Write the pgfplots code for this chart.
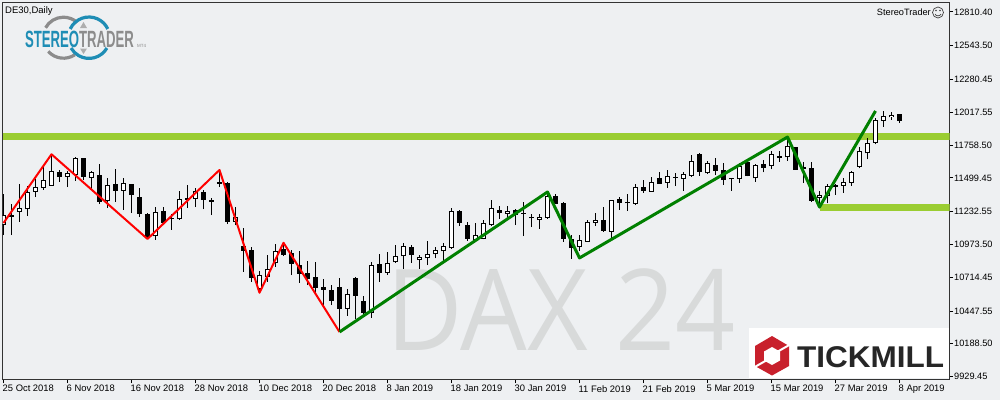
\documentclass[border=0pt]{standalone}
\usepackage{fontspec}
\setmainfont{Liberation Sans}
\newfontfamily\wmfont{Open Sans}
\usepackage{pgfplots}
\usepackage{pgfplotstable}
\pgfplotsset{compat=1.18}

\definecolor{chartbg}{HTML}{EEF0F2}
\definecolor{band}{HTML}{9ACD32}
\definecolor{zgreen}{HTML}{008000}
\definecolor{wm}{HTML}{D8DADA}
\definecolor{stblue}{HTML}{1E8DB5}
\definecolor{stgray}{HTML}{8C8C8C}
\definecolor{tmred}{HTML}{C8202C}
\definecolor{frame}{HTML}{333333}

% bull candles: bar open high low close
\pgfplotstableread{
k open high low close
0 11125 11372 11048 11209
2 11233 11451 11154 11259
3 11251 11435 11198 11385
4 11391 11488 11348 11425
5 11422 11588 11404 11480
6 11438 11685 11436 11551
8 11509 11554 11427 11535
9 11525 11664 11477 11654
11 11501 11554 11409 11543
13 11317 11499 11262 11441
15 11399 11499 11246 11457
19 11038 11267 11009 11227
22 11172 11396 11170 11330
24 11335 11417 11269 11393
29 11154 11267 11125 11188
32 10619 10764 10593 10730
33 10719 10890 10680 10777
34 10830 10977 10798 10919
43 10466 10622 10411 10579
46 10435 10832 10395 10808
48 10751 10911 10735 10824
49 10832 10969 10830 10880
50 10880 10982 10780 10959
52 10853 10888 10780 10872
53 10864 11001 10811 10896
54 10896 10951 10864 10927
55 10919 10982 10846 10959
56 10948 11261 10941 11235
59 11009 11141 10996 11051
60 11019 11167 11014 11140
61 11127 11325 11119 11259
63 11217 11277 11183 11235
67 11170 11212 11096 11188
68 11185 11385 11175 11356
72 10956 11048 10922 11006
73 10996 11167 10994 11148
74 11146 11219 11119 11164
76 11075 11325 11009 11322
79 11296 11449 11285 11425
81 11391 11506 11389 11464
83 11462 11562 11422 11512
85 11493 11549 11396 11528
86 11517 11680 11509 11630
88 11535 11633 11533 11614
92 11488 11614 11462 11593
94 11496 11607 11470 11601
96 11591 11715 11567 11685
98 11662 11825 11633 11749
102 11343 11396 11267 11362
103 11359 11451 11299 11433
104 11425 11451 11367 11441
105 11438 11496 11383 11465
106 11462 11554 11438 11543
107 11588 11746 11575 11712
108 11694 11812 11646 11775
109 11778 11975 11765 11954
110 11952 12028 11904 11986
111 11978 12017 11957 11999
}\upcandles

% bear candles
\pgfplotstableread{
k open high low close
1 11204 11293 11048 11193
7 11546 11562 11467 11507
10 11656 11660 11483 11507
12 11520 11609 11293 11309
14 11449 11567 11309 11399
16 11451 11455 11222 11367
17 11346 11420 11190 11214
18 11214 11219 11014 11030
20 11235 11267 11140 11146
21 11184 11212 11088 11176
23 11338 11443 11262 11327
25 11388 11404 11251 11325
26 11325 11338 11206 11311
27 11467 11562 11427 11454
28 11457 11467 11135 11154
30 10961 11104 10759 10924
31 10927 10951 10680 10711
35 10938 10988 10882 10893
36 10903 10930 10732 10822
37 10811 10922 10672 10743
38 10748 10843 10653 10698
39 10716 10835 10587 10632
40 10637 10701 10495 10616
41 10614 10653 10495 10529
42 10637 10708 10285 10466
44 10708 10714 10385 10569
45 10527 10566 10411 10435
47 10816 10898 10680 10751
51 10951 10966 10830 10893
57 11235 11243 11122 11146
58 11125 11151 11004 11017
62 11246 11277 11175 11225
64 11246 11250 11127 11209
65 11225 11309 11040 11217
66 11188 11214 11111 11180
69 11356 11369 11293 11296
70 11301 11306 10996 11019
71 11014 11048 10859 10948
75 11167 11267 11075 11080
77 11330 11346 11246 11304
78 11309 11372 11238 11299
80 11427 11483 11383 11396
82 11498 11546 11452 11454
84 11509 11541 11435 11501
87 11688 11693 11517 11546
89 11601 11656 11522 11556
90 11562 11620 11446 11483
91 11496 11498 11399 11488
93 11625 11628 11512 11514
95 11607 11641 11543 11580
97 11672 11712 11628 11659
99 11743 11745 11562 11564
100 11583 11628 11462 11572
101 11575 11625 11309 11320
112 12001 12004 11933 11949
}\downcandles

\pgfplotsset{
  wick/.style={draw=none, no markers, forget plot,
    error bars/.cd, y dir=plus, y explicit, error mark=none,
    error bar style={line width=1pt, black}},
  body/.style={draw=none, no markers, forget plot,
    error bars/.cd, y dir=plus, y explicit, error mark=none,
    error bar style={line width=#1}},
}

\begin{document}
\begin{tikzpicture}
\path[use as bounding box, fill=chartbg] (0pt,0pt) rectangle (1000pt,-400pt);

% watermark sits under the candles
\begin{scope}[x=1pt,y=-1pt]
  \node[anchor=base west, inner sep=0pt, text=wm, font=\wmfont\fontsize{113}{113}\selectfont,
        xscale=0.93, transform shape] at (386,350) {DAX 24};
\end{scope}

\begin{axis}[
  at={(2.5pt,-379.5pt)}, anchor=south west,
  width=947pt, height=377pt, scale only axis,
  xmin=-0.125, xmax=118.25,
  ymin=9906.6, ymax=12885,
  scaled y ticks=false,
  axis line style={frame, line width=1pt},
  clip=true,
  xtick={0,8,...,112},
  xticklabels={25 Oct 2018,6 Nov 2018,16 Nov 2018,28 Nov 2018,10 Dec 2018,20 Dec 2018,
    8 Jan 2019,18 Jan 2019,30 Jan 2019,11 Feb 2019,21 Feb 2019,5 Mar 2019,15 Mar 2019,
    27 Mar 2019,8 Apr 2019},
  ytick={9929.45,10188.50,10447.55,10714.45,10973.50,11232.55,11499.45,11758.50,12017.55,12280.45,12543.50,12810.40},
  yticklabels={9929.45,10188.50,10447.55,10714.45,10973.50,11232.55,11499.45,11758.50,12017.55,12280.45,12543.50,12810.40},
  xtick pos=bottom, ytick pos=right, yticklabel pos=right,
  tick align=outside, major tick length=3.5pt,
  tick style={black, line width=0.9pt},
  x tick label style={anchor=north west, inner sep=0pt, xshift=-1pt, yshift=-2pt,
    font=\fontsize{9.4}{10}\selectfont},
  y tick label style={anchor=west, inner sep=0pt, xshift=1pt,
    font=\fontsize{9.2}{10}\selectfont},
]
% support / resistance bands
\addplot[band, line width=7pt, forget plot] coordinates {(-0.125,11826) (118.25,11826)};
\addplot[band, line width=7pt, forget plot] coordinates {(102,11265) (118.25,11265)};

% wicks
\addplot[wick] table[x=k, y=low, y error plus expr=\thisrow{high}-\thisrow{low}] {\upcandles};
\addplot[wick] table[x=k, y=low, y error plus expr=\thisrow{high}-\thisrow{low}] {\downcandles};
% bodies
\addplot[body={5pt,black}] table[x=k, y=close, y error plus expr=\thisrow{open}-\thisrow{close}] {\downcandles};
\addplot[body={5pt,black}] table[x=k, y=open, y error plus expr=\thisrow{close}-\thisrow{open}] {\upcandles};
\addplot[body={3pt,white}] table[x=k, y expr=\thisrow{open}+8, y error plus expr=\thisrow{close}-\thisrow{open}-16] {\upcandles};

% zigzags
\addplot[red, line width=2pt, line join=round] coordinates {
  (0,11143) (6,11686) (18,11017) (27,11562) (32,10592) (35,10987) (42,10282)};
\addplot[zgreen, line width=3pt, line join=round] coordinates {
  (42,10282) (68,11388) (72,10867) (98,11822) (102,11269) (109,12028)};
\end{axis}

\begin{scope}[x=1pt,y=-1pt]
  % header texts
  \node[anchor=base west, inner sep=0pt, font=\fontsize{9.5}{10}\selectfont] at (5,13) {DE30,Daily};
  \node[anchor=base east, inner sep=0pt, font=\fontsize{9.2}{10}\selectfont] at (931,15.5) {StereoTrader};
  % smiley
  \draw[black!75, line width=0.7pt] (938,12.5) circle[radius=5.5];
  \fill[black!75] (936,10.5) circle[radius=0.8] (940,10.5) circle[radius=0.8];
  \draw[black!75, line width=0.7pt] (935,14) .. controls (936.5,16.5) and (939.5,16.5) .. (941,14);

  % StereoTrader logo
  \draw[stgray, line width=3.2pt] (63.5,37.7) ++(209:20.5) arc[start angle=209, end angle=312, radius=20.5];
  \draw[stgray, line width=3.2pt] (63.5,37.7) ++(56:20.5) arc[start angle=56, end angle=138, radius=20.5];
  \draw[stblue, line width=3.2pt] (89,37.7) ++(205:20.7) arc[start angle=205, end angle=335, radius=20.7];
  \draw[stblue, line width=3.2pt] (89,37.7) ++(30:20.7) arc[start angle=30, end angle=150, radius=20.7];
  \fill[stgray!70] (83.5,22) -- (80,28) -- (87,28) -- cycle;
  \fill[stgray!70] (83.5,54) -- (80,48.5) -- (87,48.5) -- cycle;
  \node[anchor=base west, inner sep=0pt, text=stblue, font=\bfseries\fontsize{23.5}{24}\selectfont,
        xscale=0.56, transform shape] at (25,47.7) {STEREO};
  \node[anchor=base west, inner sep=0pt, text=stgray, font=\bfseries\fontsize{23.5}{24}\selectfont,
        xscale=0.56, transform shape] at (79,47.7) {TRADER};
  \node[anchor=base west, inner sep=0pt, text=stgray, font=\fontsize{4.5}{5}\selectfont] at (137,47.5) {MT4};

  % Tickmill logo
  \fill[white] (749,328) rectangle (949,378);
  \fill[tmred] (772,336) -- (789,346) -- (789,366) -- (772,375.5) -- (755,366) -- (755,346) -- cycle;
  \fill[white] (772,347) -- (780,351.5) -- (780,360.5) -- (772,365) -- (764,360.5) -- (764,351.5) -- cycle;
  \draw[white, line width=2pt] (791,344) -- (777,352);
  \draw[white, line width=2pt] (753,368) -- (767,360);
  \node[anchor=base west, inner sep=0pt, text=black!85, font=\bfseries\fontsize{30}{30}\selectfont,
        xscale=1.05, transform shape] at (797,367) {TICKMILL};
\end{scope}
\end{tikzpicture}
\end{document}
